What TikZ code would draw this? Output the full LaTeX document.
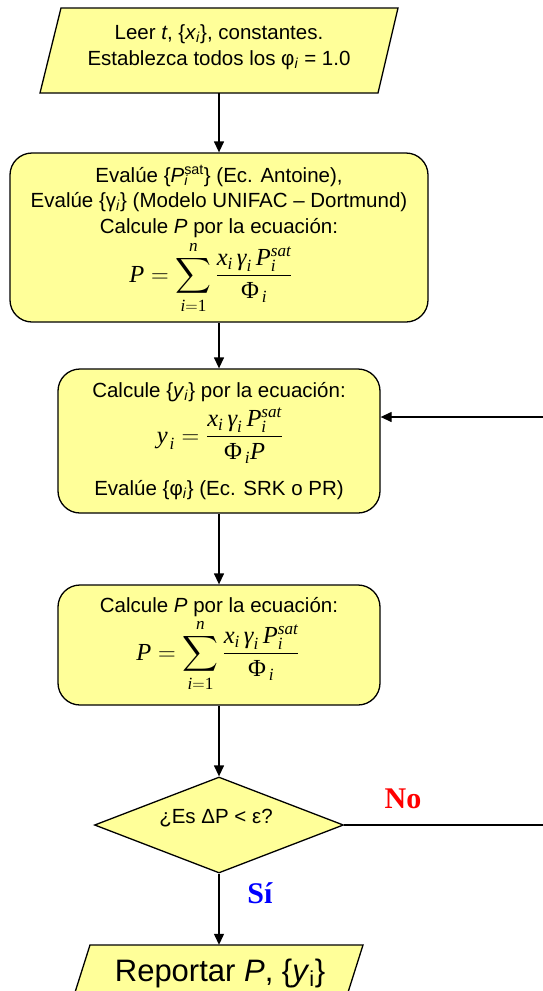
\documentclass[tikz,border=0pt]{standalone}
\usepackage{fix-cm}
\usepackage{exscale}
\usepackage{amsmath}
\usepackage{fontspec}
\setmainfont{Liberation Sans}
\newfontfamily\serifb{Liberation Serif}
\usetikzlibrary{arrows.meta,shapes.geometric}
\definecolor{yel}{RGB}{255,255,153}
\newcommand{\iv}[1]{\textit{#1}}
\newcommand{\subi}{\textsubscript{\textit{i}}}
\newcommand{\mv}[1]{\text{\serifb\itshape #1}}
\newcommand{\mr}[1]{\text{\serifb\upshape #1}}
\newcommand{\numer}{\mv{x}_{\mv{i}}\mkern3mu\mv{γ}_{\mv{i}}\mkern3mu\mv{P}_{\mv{i}}^{\mv{sat}}}
\newcommand{\denphi}{\mr{Φ}_{\mkern3mu\mv{i}}}
\begin{document}
\begin{tikzpicture}[x=1pt,y=-1pt,
  shp/.style={draw=black,line width=1.3pt,fill=yel},
  box/.style={shp,rounded corners=22pt,inner sep=0pt},
  txt/.style={font=\fontsize{20.5}{24}\selectfont,inner sep=0pt,anchor=base},
  frm/.style={font=\fontsize{24.5}{28}\selectfont,inner sep=0pt,anchor=base},
  hid/.style={inner sep=0pt,draw=none},
  arr/.style={line width=1.3pt,-{Triangle[length=11pt,width=10pt]}},
  lbl/.style={inner sep=0pt,anchor=base,font={\serifb\bfseries\fontsize{30}{32}\selectfont}}
]
\useasboundingbox (0,0) rectangle (542,991);

% input parallelogram
\draw[shp] (61,8) -- (398,8) -- (378,93) -- (40,93) -- cycle;
\node[hid,minimum width=300pt,minimum height=85pt] (p1) at (219,50.5) {};
\node[txt] (p1a) at (219,39) {Leer \iv{t}, \{\iv{x}\subi\}, constantes.};
\node[txt] (p1b) at (219,65) {Establezca todos los φ\subi{} = 1.0};

% box 2
\node[box,minimum width=418pt,minimum height=169pt] (b2) at (219,237.5) {};
\node[txt] (b2a) at (219,182) {Evalúe \{\iv{P}\rlap{\textsubscript{\iv{i}}}\textsuperscript{sat}\} (Ec. Antoine),};
\node[txt] (b2b) at (219,207) {Evalúe \{γ\subi\} (Modelo UNIFAC – Dortmund)};
\node[txt] (b2c) at (219,233) {Calcule \iv{P} por la ecuación:};
\node[frm] (f2) at (211,282) {$\displaystyle \mv{P}=\sum_{\mv{i}=\mr{1}}^{\mv{n}}\frac{\numer}{\denphi}$};

% box 3
\node[box,minimum width=322pt,minimum height=144pt] (b3) at (219,441) {};
\node[txt] (b3a) at (219,397) {Calcule \{\iv{y}\subi\} por la ecuación:};
\node[frm] (f3) at (220,443) {$\displaystyle \mv{y}_{\mkern2mu\mv{i}}=\frac{\numer}{\denphi\mv{P}}$};
\node[txt] (b3b) at (219,495) {Evalúe \{φ\subi\} (Ec. SRK o PR)};

% box 4
\node[box,minimum width=322pt,minimum height=120pt] (b4) at (219,645) {};
\node[txt] (b4a) at (219,612) {Calcule \iv{P} por la ecuación:};
\node[frm] (f4) at (218,660) {$\displaystyle \mv{P}=\sum_{\mv{i}=\mr{1}}^{\mv{n}}\frac{\numer}{\denphi}$};

% decision
\node[diamond,shp,inner sep=0pt,aspect=2.6,minimum width=249pt,minimum height=96pt] (dec) at (219,825) {};
\node[txt] (dect) at (216,823) {¿Es ΔP < ε?};

% output parallelogram
\draw[shp] (90,945) -- (363,945) -- (344,1005) -- (71,1005) -- cycle;
\node[hid,minimum width=250pt,minimum height=60pt] (p2) at (219,975) {};
\node[anchor=base,inner sep=0pt,font=\fontsize{31}{34}\selectfont] (p2t) at (220,981) {Reportar \iv{P}, \{\iv{y}\textsubscript{i}\}};

% connectors
\draw[arr] (p1.south) -- (b2.north);
\draw[arr] (b2.south) -- (b3.north);
\draw[arr] (b3.south) -- (b4.north);
\draw[arr] (b4.south) -- (dec.north);
\draw[arr] (dec.south) -- (p2.north);
\coordinate (r1) at (552,825);
\coordinate (r2) at (552,417);
\draw[arr] (dec.east) -- (r1) -- (r2) -- (r2 -| b3.east);

\node[lbl,text=red] (no) at (403,808) {No};
\node[lbl,text=blue] (si) at (260,903) {Sí};
\end{tikzpicture}
\end{document}
